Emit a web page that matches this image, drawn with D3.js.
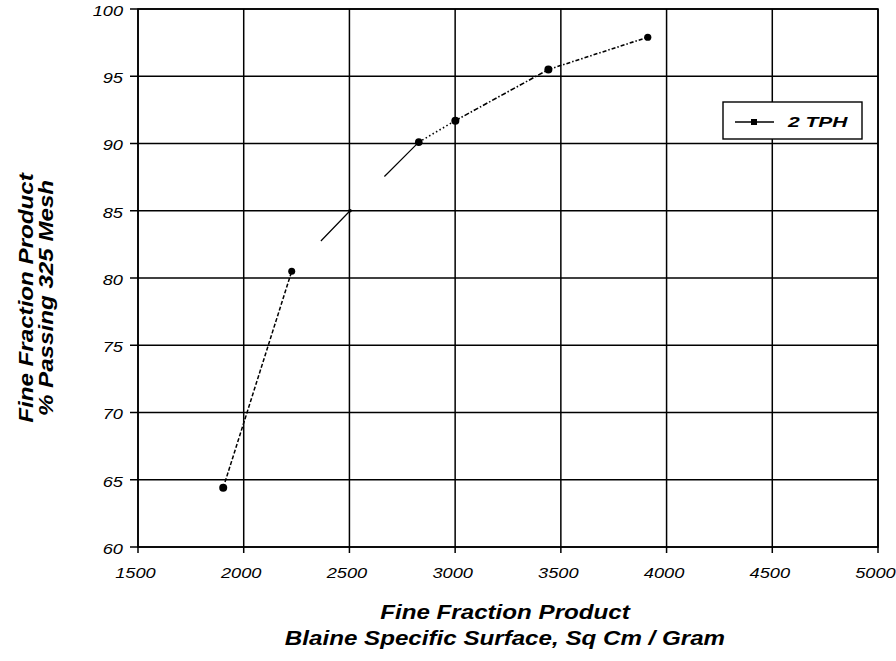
<!DOCTYPE html>
<html>
<head>
<meta charset="utf-8">
<script src="https://cdn.jsdelivr.net/npm/d3@7"></script>
<style>
  html, body { margin: 0; padding: 0; background: #fff; }
  svg { display: block; }
  text { font-family: "Liberation Sans", Arial, sans-serif; fill: #000; }
</style>
</head>
<body>
<svg id="chart" width="896" height="661"></svg>
<script>
// Blaine specific surface (sq cm / gram) of the fine fraction product
const blaine = [1903, 2227, 2503, 2828, 3001, 3441, 3911];
// Percent of the fine fraction passing 325 mesh
const passing = [64.4, 80.5, 85.0, 90.1, 91.7, 95.5, 97.9];
const seriesName = "2 TPH";

const xTicks = [1500, 2000, 2500, 3000, 3500, 4000, 4500, 5000];
const yTicks = [60, 65, 70, 75, 80, 85, 90, 95, 100];

const xTitle = ["Fine Fraction Product", "Blaine Specific Surface, Sq Cm / Gram"];
const yTitle = ["Fine Fraction Product", "% Passing 325 Mesh"];

// Stroke style of each piece joining consecutive points
const segDash = ["4 2", null, null, "1.5 2.5", "5 2 1.5 2", "4 2 1.5 2"];
const segWidth = [1.5, 1.2, 1.2, 1.6, 1.6, 1.6];
const segHidden = [0, 0.5, 0.5, 0, 0, 0];   // leading share of the piece not drawn
const markerR = [4, 3.5, 1.8, 3.8, 4, 4, 3.6];

const svg = d3.select("#chart");
const m = { left: 138, right: 878, top: 9, bottom: 547 };

const x = d3.scaleLinear().domain([1500, 5000]).range([m.left, m.right]);
const y = d3.scaleLinear().domain([60, 100]).range([m.bottom, m.top]);

// stretch text horizontally by factor k
function stretch(sel, k) {
  sel.each(function () {
    const w = this.getComputedTextLength();
    d3.select(this).attr("textLength", w * k).attr("lengthAdjust", "spacingAndGlyphs");
  });
}

// grid
const grid = svg.append("g").attr("stroke", "#000").attr("stroke-width", 1.5);
grid.selectAll("line.v").data(xTicks).join("line")
  .attr("x1", d => x(d)).attr("x2", d => x(d))
  .attr("y1", m.top).attr("y2", m.bottom + 6);
grid.selectAll("line.h").data(yTicks).join("line")
  .attr("y1", d => y(d)).attr("y2", d => y(d))
  .attr("x1", m.left - 8).attr("x2", m.right);
svg.append("rect")
  .attr("x", m.left).attr("y", m.top)
  .attr("width", m.right - m.left).attr("height", m.bottom - m.top)
  .attr("fill", "none").attr("stroke", "#000").attr("stroke-width", 1.6);

// axes labels via d3 axes
const xAxis = svg.append("g")
  .attr("transform", `translate(-3,${m.bottom})`)
  .call(d3.axisBottom(x).tickValues(xTicks).tickSize(0).tickPadding(21).tickFormat(d3.format("d")));
xAxis.select(".domain").remove();
xAxis.selectAll("text")
  .style("font-size", "14px").style("font-style", "italic").attr("fill", "#000")
  .call(stretch, 1.3);

const yAxis = svg.append("g")
  .attr("transform", `translate(${m.left - 15},2)`)
  .call(d3.axisLeft(y).tickValues(yTicks).tickSize(0).tickPadding(0).tickFormat(d3.format("d")));
yAxis.select(".domain").remove();
yAxis.selectAll("text")
  .style("font-size", "14px").style("font-style", "italic").attr("fill", "#000")
  .call(stretch, 1.3);

// series line, drawn piece by piece
const pts = blaine.map((b, i) => [x(b), y(passing[i])]);
const pieces = d3.range(pts.length - 1).map(i => ({ a: pts[i], b: pts[i + 1], i }));
svg.append("g").selectAll("line").data(pieces).join("line")
  .attr("x1", d => d.a[0]).attr("y1", d => d.a[1])
  .attr("x2", d => d.b[0]).attr("y2", d => d.b[1])
  .attr("stroke", "#000")
  .attr("stroke-width", d => segWidth[d.i])
  .attr("stroke-dasharray", d => {
    const len = Math.hypot(d.b[0] - d.a[0], d.b[1] - d.a[1]);
    if (segHidden[d.i] > 0) return `0 ${len * segHidden[d.i]} ${len}`;
    return segDash[d.i];
  });

svg.append("g").selectAll("circle").data(pts).join("circle")
  .attr("cx", d => d[0]).attr("cy", d => d[1])
  .attr("r", (d, i) => markerR[i]).attr("fill", "#000");

// legend
const lg = svg.append("g").attr("transform", "translate(723,102)");
lg.append("rect").attr("width", 139).attr("height", 37)
  .attr("fill", "#fff").attr("stroke", "#000").attr("stroke-width", 1.4);
lg.append("line").attr("x1", 12).attr("x2", 51).attr("y1", 20).attr("y2", 20)
  .attr("stroke", "#000").attr("stroke-width", 1.4);
lg.append("rect").attr("x", 28).attr("y", 17).attr("width", 6).attr("height", 6).attr("fill", "#000");
lg.append("text").attr("x", 65).attr("y", 25)
  .style("font-size", "15px").style("font-weight", "bold").style("font-style", "italic")
  .text(seriesName).call(stretch, 1.4);

// axis titles
const cx = (m.left + m.right) / 2 - 3;
svg.append("g").selectAll("text").data(xTitle).join("text")
  .attr("x", cx).attr("y", (d, i) => 619 + i * 26)
  .attr("text-anchor", "middle")
  .style("font-size", "21px").style("font-weight", "bold").style("font-style", "italic")
  .text(d => d).call(stretch, 1.15);

svg.append("g").selectAll("text").data(yTitle).join("text")
  .attr("transform", (d, i) => `translate(${33 + i * 20},298) rotate(-90)`)
  .attr("text-anchor", "middle")
  .style("font-size", "21px").style("font-weight", "bold").style("font-style", "italic")
  .text(d => d).call(stretch, 1.15);
</script>
</body>
</html>
